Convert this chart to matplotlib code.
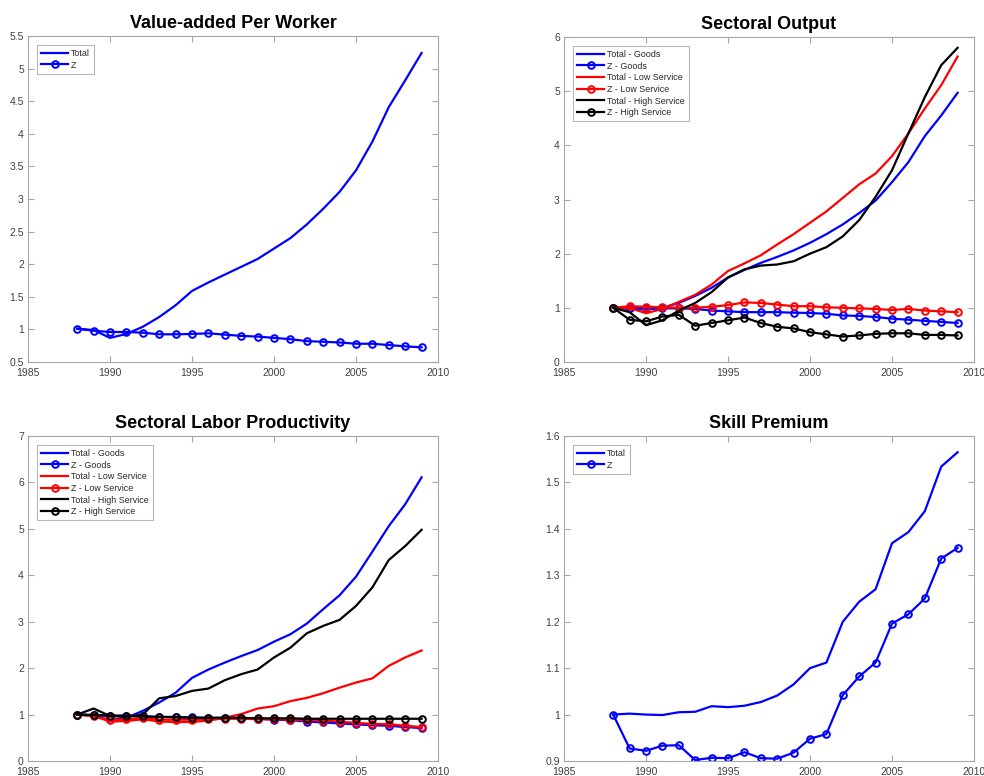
import matplotlib
matplotlib.use("Agg")
import matplotlib.pyplot as plt
from matplotlib.ticker import MultipleLocator, FuncFormatter

plt.rcParams['font.family'] = ['Liberation Sans', 'DejaVu Sans']

years = list(range(1988, 2010))

# Value-added per worker
va_total = [1.01, 0.99, 0.87, 0.93, 1.04, 1.19, 1.37, 1.59, 1.72, 1.84, 1.96,
            2.08, 2.24, 2.40, 2.61, 2.85, 3.11, 3.44, 3.88, 4.41, 4.82, 5.24]
va_z = [1.01, 0.98, 0.96, 0.96, 0.95, 0.925, 0.925, 0.93, 0.94, 0.92, 0.90,
        0.89, 0.87, 0.85, 0.82, 0.81, 0.80, 0.78, 0.78, 0.76, 0.74, 0.725]

# Sectoral output
out_goods_total = [1.0, 0.98, 0.97, 1.0, 1.09, 1.22, 1.37, 1.56, 1.70, 1.83, 1.94,
                   2.06, 2.20, 2.36, 2.54, 2.75, 2.98, 3.32, 3.69, 4.17, 4.55, 4.97]
out_goods_z = [1.0, 1.0, 0.99, 0.99, 0.99, 0.98, 0.95, 0.935, 0.92, 0.92, 0.92,
               0.91, 0.905, 0.89, 0.86, 0.85, 0.83, 0.80, 0.78, 0.76, 0.74, 0.72]
out_low_total = [1.0, 1.0, 0.90, 0.98, 1.11, 1.24, 1.43, 1.68, 1.82, 1.97, 2.17,
                 2.36, 2.57, 2.78, 3.03, 3.28, 3.48, 3.80, 4.22, 4.68, 5.11, 5.64]
out_low_z = [1.0, 1.03, 1.02, 1.01, 1.0, 1.0, 1.02, 1.05, 1.10, 1.09, 1.06,
             1.03, 1.03, 1.01, 1.0, 0.99, 0.98, 0.96, 0.98, 0.95, 0.935, 0.92]
out_high_total = [1.0, 0.92, 0.68, 0.77, 0.95, 1.09, 1.29, 1.56, 1.71, 1.78, 1.80,
                  1.86, 2.0, 2.12, 2.32, 2.62, 3.05, 3.54, 4.22, 4.89, 5.48, 5.80]
out_high_z = [1.0, 0.78, 0.75, 0.84, 0.87, 0.67, 0.72, 0.77, 0.82, 0.72, 0.65,
              0.62, 0.55, 0.51, 0.47, 0.49, 0.52, 0.53, 0.53, 0.50, 0.50, 0.49]

# Sectoral labor productivity
lp_goods_total = [1.0, 0.98, 0.88, 0.93, 1.08, 1.26, 1.47, 1.79, 1.97, 2.12, 2.26,
                  2.39, 2.57, 2.73, 2.96, 3.27, 3.57, 3.97, 4.51, 5.06, 5.53, 6.11]
lp_goods_z = [1.0, 0.99, 0.97, 0.98, 0.96, 0.95, 0.95, 0.94, 0.93, 0.93, 0.92,
              0.91, 0.89, 0.88, 0.85, 0.83, 0.81, 0.79, 0.77, 0.76, 0.73, 0.71]
lp_low_total = [1.0, 0.97, 0.85, 0.86, 0.90, 0.85, 0.84, 0.84, 0.87, 0.93, 1.01,
                1.13, 1.18, 1.29, 1.36, 1.46, 1.58, 1.69, 1.78, 2.05, 2.23, 2.38]
lp_low_z = [1.0, 0.97, 0.88, 0.90, 0.92, 0.89, 0.89, 0.89, 0.90, 0.91, 0.91,
            0.90, 0.90, 0.89, 0.88, 0.87, 0.85, 0.82, 0.80, 0.79, 0.76, 0.73]
lp_high_total = [1.0, 1.13, 0.97, 0.95, 1.0, 1.35, 1.40, 1.51, 1.56, 1.74, 1.87,
                 1.97, 2.23, 2.44, 2.75, 2.91, 3.04, 3.34, 3.74, 4.33, 4.63, 4.98]
lp_high_z = [1.0, 0.99, 0.98, 0.97, 0.96, 0.95, 0.94, 0.93, 0.93, 0.93, 0.93,
             0.92, 0.92, 0.92, 0.91, 0.91, 0.91, 0.91, 0.91, 0.91, 0.91, 0.91]

# Skill premium
sp_total = [1.0, 1.002, 1.0, 0.999, 1.005, 1.006, 1.018, 1.016, 1.019, 1.027, 1.041,
            1.065, 1.10, 1.112, 1.20, 1.243, 1.27, 1.369, 1.393, 1.438, 1.534, 1.565]
sp_z = [1.0, 0.927, 0.922, 0.933, 0.934, 0.902, 0.907, 0.906, 0.919, 0.906, 0.905,
        0.918, 0.948, 0.958, 1.042, 1.082, 1.112, 1.196, 1.216, 1.250, 1.336, 1.359]

sector_labels = ['Total - Goods', 'Z - Goods', 'Total - Low Service',
                 'Z - Low Service', 'Total - High Service', 'Z - High Service']

BLUE = '#0000ff'
RED = '#ff0000'
BLACK = '#000000'
SPINE = '#a6a6a6'
TICKTXT = '#404040'
LW = 1.6
MS = 4.8

fig = plt.figure(figsize=(9.84, 7.76), dpi=100)
W, H = 984.0, 776.0


def make_axes(x0, y0, x1, y1):
    return fig.add_axes([x0 / W, 1 - y1 / H, (x1 - x0) / W, (y1 - y0) / H])


def style(ax, ylim, ystep, title):
    ax.set_xlim(1985, 2010)
    ax.set_ylim(*ylim)
    ax.xaxis.set_major_locator(MultipleLocator(5))
    ax.yaxis.set_major_locator(MultipleLocator(ystep))
    ax.yaxis.set_major_formatter(FuncFormatter(lambda v, p: f"{round(v, 4):g}"))
    ax.tick_params(direction='in', top=True, right=True, length=4, width=0.8,
                   color=SPINE, labelcolor=TICKTXT, labelsize=7.5)
    ax.tick_params(axis='x', pad=4)
    ax.tick_params(axis='y', pad=3)
    for s in ax.spines.values():
        s.set_color(SPINE)
        s.set_linewidth(0.8)
    ax.set_title(title, fontsize=13, fontweight='bold', pad=6)


def line(ax, y, color, label):
    ax.plot(years, y, color=color, lw=LW, label=label)


def zline(ax, y, color, label):
    ax.plot(years, y, color=color, lw=LW, marker='o', ms=MS, mfc='none',
            mew=1.4, label=label)


def legend(ax):
    leg = ax.legend(loc='upper left', prop={'size': 6.4}, frameon=True,
                    fancybox=False, handlelength=3.1, handletextpad=0.3,
                    borderpad=0.45, labelspacing=0.3, borderaxespad=1.0)
    leg.get_frame().set_edgecolor(SPINE)
    leg.get_frame().set_linewidth(0.8)
    for t in leg.get_texts():
        t.set_color('#262626')


# Panel 1
ax1 = make_axes(28, 36, 438, 362)
line(ax1, va_total, BLUE, 'Total')
zline(ax1, va_z, BLUE, 'Z')
style(ax1, (0.5, 5.5), 0.5, 'Value-added Per Worker')
legend(ax1)

# Panel 2
ax2 = make_axes(564, 37, 974, 362)
line(ax2, out_goods_total, BLUE, sector_labels[0])
zline(ax2, out_goods_z, BLUE, sector_labels[1])
line(ax2, out_low_total, RED, sector_labels[2])
zline(ax2, out_low_z, RED, sector_labels[3])
line(ax2, out_high_total, BLACK, sector_labels[4])
zline(ax2, out_high_z, BLACK, sector_labels[5])
style(ax2, (0, 6), 1, 'Sectoral Output')
legend(ax2)

# Panel 3
ax3 = make_axes(28, 436, 438, 761)
line(ax3, lp_goods_total, BLUE, sector_labels[0])
zline(ax3, lp_goods_z, BLUE, sector_labels[1])
line(ax3, lp_low_total, RED, sector_labels[2])
zline(ax3, lp_low_z, RED, sector_labels[3])
line(ax3, lp_high_total, BLACK, sector_labels[4])
zline(ax3, lp_high_z, BLACK, sector_labels[5])
style(ax3, (0, 7), 1, 'Sectoral Labor Productivity')
legend(ax3)

# Panel 4
ax4 = make_axes(564, 436, 974, 761)
line(ax4, sp_total, BLUE, 'Total')
zline(ax4, sp_z, BLUE, 'Z')
style(ax4, (0.9, 1.6), 0.1, 'Skill Premium')
legend(ax4)

fig.savefig('out.png', dpi=100, facecolor='white')
